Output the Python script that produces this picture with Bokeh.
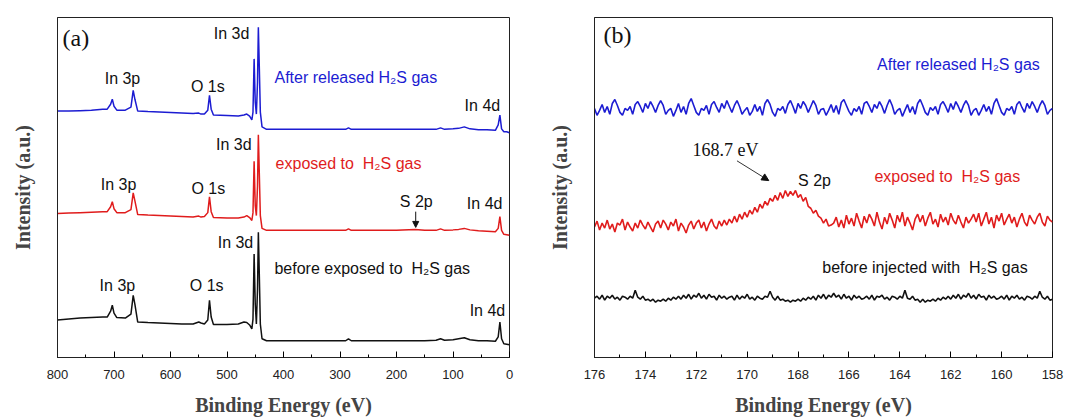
import numpy as np
from bokeh.plotting import figure
from bokeh.models import Range1d, Label, Arrow, NormalHead, FixedTicker
from bokeh.layouts import row
from bokeh.embed import file_html
from bokeh.resources import INLINE

# ---------------- data: (a) survey spectra ----------------
energy_a = [800, 780, 760, 740, 720, 712, 706, 703, 700, 695, 680, 670, 666, 663, 658,
            640, 620, 600, 580, 560, 550, 546, 540, 534, 531, 528, 524, 500, 480, 470,
            465, 460, 456, 454, 452, 450, 448, 446, 444.5, 443, 441, 438, 430, 400, 350,
            300, 290, 285, 280, 250, 200, 167, 150, 130, 122, 115, 100, 90, 80, 70,
            55, 40, 25, 20, 17, 14, 10, 5, 0]
after_a = [250, 250, 250.5, 251, 252, 252, 257, 262, 255, 251, 251, 254, 271, 262, 250,
           249.5, 249, 248.5, 248, 247.5, 248, 247, 247, 251, 266, 252, 246, 245.5, 245, 246,
           247, 245, 241, 249, 303, 259, 247, 279, 335, 299, 249, 234, 231.5, 231.5, 231.5,
           231.5, 231.5, 233, 231.5, 231.5, 231.5, 231.5, 231.5, 231.5, 233, 231.5, 232, 232.5, 234, 232,
           231, 231, 230.5, 236, 246, 232, 229, 229, 228]
exposed_a = [146, 146.5, 147, 147.5, 148, 148, 153, 158, 151, 147, 147, 150, 167, 159, 145,
             144.5, 144, 143.5, 143, 142.5, 143.5, 142.5, 143, 147, 163, 148, 142, 141.5, 141.5, 142.5,
             144, 142, 139, 147, 199, 154, 144, 174, 226, 191, 144, 131, 129, 129, 129,
             129, 129, 130.5, 129, 129, 129, 130, 129, 129, 130.5, 129, 129.5, 130, 131, 129.5,
             128.5, 128, 127.5, 131, 143, 129, 125, 124.5, 124]
before_a = [38, 39, 40, 40.5, 41, 41, 47, 53, 45, 40.5, 40, 44, 63, 54, 36,
            35.5, 35, 34.5, 34, 34, 36, 35, 34, 38, 58, 41, 33.5, 33.5, 34, 36,
            35.5, 33, 29, 39, 105, 54, 34, 69, 127, 89, 34, 19, 17, 17, 17,
            17, 17, 19, 17, 17, 17, 17, 17, 17.5, 19, 17.5, 18, 19, 20, 18,
            17, 17, 16.5, 21, 36, 19, 14, 13.5, 13]
ticks_a = [0, 100, 200, 300, 400, 500, 600, 700, 800]
minor_a = [50, 150, 250, 350, 450, 550, 650, 750]

# ---------------- data: (b) S 2p region (176 -> 158 eV, 0.1 eV steps) ----------------
after_b = [252, 245, 250, 256, 248, 254, 246, 257, 261, 255, 248, 245, 252, 250, 254, 246, 256, 259, 254, 248, 257, 252, 259, 254, 248, 255, 260, 255, 246, 250,
           252, 244, 250, 257, 248, 254, 246, 257, 262, 255, 248, 245, 252, 250, 255, 246, 256, 259, 253, 248, 257, 252, 260, 254, 248, 255, 260, 254, 246, 250,
           253, 245, 249, 256, 249, 254, 245, 257, 261, 256, 248, 244, 252, 250, 254, 247, 256, 260, 254, 247, 257, 252, 259, 255, 248, 254, 260, 255, 246, 251,
           252, 245, 250, 256, 248, 255, 246, 258, 261, 255, 249, 245, 252, 249, 254, 246, 257, 259, 254, 248, 256, 252, 259, 254, 247, 255, 261, 255, 246, 250,
           252, 244, 250, 256, 248, 254, 246, 257, 261, 255, 248, 245, 253, 250, 254, 246, 256, 259, 254, 248, 257, 251, 259, 254, 248, 255, 260, 255, 245, 250,
           252, 245, 250, 256, 249, 254, 246, 257, 262, 255, 248, 245, 252, 250, 254, 246, 256, 259, 253, 248, 257, 252, 259, 254, 248, 255, 260, 255, 246, 250, 252]
exposed_b = [132, 138, 129, 136, 131, 139, 130, 135, 127, 136, 134, 140, 129, 137, 132, 128, 136, 131, 139, 134,
             130, 137, 132, 127, 135, 138, 131, 139, 135, 129, 137, 133, 140, 128, 136, 132, 126, 134, 138, 130,
             136, 139, 131, 137, 128, 135, 140, 133, 130, 138,
             133, 139, 134, 140, 136, 143, 137, 145, 140, 147, 142, 149, 145, 152, 147, 155, 151, 158, 154, 161, 158,
             164, 159, 167, 161, 169, 163, 168, 164, 169, 162,
             165, 158, 162, 153, 151, 146, 149, 143, 141, 136, 140, 133, 134,
             136, 142, 132, 139, 131, 144, 135, 141, 133, 146, 138, 131, 143, 136, 145, 140, 133, 147, 137, 130,
             142, 135, 146, 139, 131, 144, 137, 147, 133, 142, 136, 129, 140, 145, 137, 144, 133, 141, 147, 135,
             140, 132, 145, 137, 142, 134, 146, 139, 135, 144, 137, 131, 142, 136, 140, 145, 137, 146, 133, 140,
             147, 135, 142, 131, 144, 138, 146, 134, 140, 145, 136, 142, 132, 140, 146, 137, 133, 144, 139, 135,
             142, 146, 137, 133, 143, 139, 137]
before_b = [60, 62, 59, 63, 58, 62, 60, 63, 59, 61, 58, 62, 61, 59, 62, 60, 68, 61, 59, 62, 58, 59, 57, 59, 56, 58, 57,
            59, 57, 60, 58, 61, 59, 62, 59, 63, 60, 64, 59, 63, 61, 65, 60, 63, 59, 64, 61, 62, 58, 63, 60, 62, 59,
            61, 62, 58, 63, 59, 62, 60, 64, 59, 61, 58, 62, 60, 59, 62, 61, 67, 61, 58, 62, 58, 59, 57, 58, 56, 58,
            57, 59, 57, 60, 58, 61, 59, 62, 58, 63, 60, 64, 59, 63, 61, 65, 61, 63, 59, 64, 60, 62, 58, 63, 60, 62, 59,
            60, 62, 59, 63, 58, 62, 61, 63, 59, 61, 58, 62, 61, 59, 62, 60, 68, 60, 59, 62, 58, 59, 56, 59, 56, 58,
            57, 59, 57, 60, 58, 61, 59, 62, 59, 63, 60, 64, 59, 63, 61, 65, 60, 63, 59, 64, 61, 62, 58, 63, 60, 62, 59,
            60, 62, 59, 63, 58, 62, 60, 63, 59, 61, 58, 62, 61, 59, 62, 60, 67, 61, 59, 62, 58, 59]
ticks_b = [158, 160, 162, 164, 166, 168, 170, 172, 174, 176]
minor_b = [159, 161, 163, 165, 167, 169, 171, 173, 175]

BLUE = "#1c1cd2"
RED = "#e01c1c"
BLACK = "#111111"
SANS = "Liberation Sans"
SERIF = "Liberation Serif"
NB = "\u00a0"


def style(p, ticks, minor):
    p.xgrid.visible = False
    p.ygrid.visible = False
    p.outline_line_color = "#222222"
    p.outline_line_width = 1
    p.background_fill_color = "white"
    p.border_fill_color = "white"
    ax = p.xaxis[0]
    ax.ticker = FixedTicker(ticks=ticks, minor_ticks=minor)
    ax.major_tick_in = 6
    ax.major_tick_out = 0
    ax.minor_tick_in = 3
    ax.minor_tick_out = 0
    ax.major_label_text_font = SANS
    ax.major_label_text_font_size = "13px"
    ax.major_label_text_color = "#222222"
    ax.major_label_standoff = 12
    ax.axis_label = "Binding Energy (eV)"
    ax.axis_label_text_font = SERIF
    ax.axis_label_text_font_style = "bold"
    ax.axis_label_text_font_size = "20px"
    ax.axis_label_standoff = 12
    ax.axis_line_color = "#222222"
    ay = p.yaxis[0]
    ay.ticker = FixedTicker(ticks=[])
    ay.axis_label = "Intensity (a.u.)"
    ay.axis_label_text_font = SERIF
    ay.axis_label_text_font_style = "bold"
    ay.axis_label_text_font_size = "20px"
    ay.axis_label_standoff = 24
    ay.axis_line_color = "#222222"


def lab(p, x, y, text, color=BLACK, size="16px", font=SANS, align="center"):
    p.add_layout(Label(x=x, y=y, text=text, text_color=color, text_font=font,
                       text_font_size=size, text_align=align, text_baseline="middle"))


# ---------------- panel (a) ----------------
p1 = figure(width=535, height=418, x_range=Range1d(800, 0), y_range=Range1d(0, 345),
            output_backend="svg", toolbar_location=None,
            min_border_left=57, min_border_right=26, min_border_top=14, min_border_bottom=59)
style(p1, ticks_a, minor_a)
p1.line(energy_a, after_a, line_color=BLUE, line_width=1.5)
p1.line(energy_a, exposed_a, line_color=RED, line_width=1.5)
p1.line(energy_a, before_a, line_color=BLACK, line_width=1.5)

lab(p1, 791, 324, "(a)", size="24px", font=SERIF, align="left")
lab(p1, 492, 329, "In 3d")
lab(p1, 685, 283, "In 3p")
lab(p1, 534, 275, "O 1s")
lab(p1, 416, 284, "After released H\u2082S gas", color=BLUE, align="left")
lab(p1, 48, 256, "In 4d")

lab(p1, 488, 216, "In 3d")
lab(p1, 414, 197, "exposed to" + NB + " H\u2082S gas", color=RED, align="left")
lab(p1, 692, 176, "In 3p")
lab(p1, 533, 171, "O 1s")
lab(p1, 165, 158, "S 2p")
lab(p1, 44, 156, "In 4d")
p1.add_layout(Arrow(x_start=166, y_start=148, x_end=166, y_end=132, line_color=BLACK, line_width=1,
                    end=NormalHead(size=6, fill_color=BLACK, line_color=BLACK)))

lab(p1, 485, 117, "In 3d")
lab(p1, 416, 90, "before exposed to" + NB + " H\u2082S gas", align="left")
lab(p1, 694, 73, "In 3p")
lab(p1, 536, 73, "O 1s")
lab(p1, 39, 48, "In 4d")

# ---------------- panel (b) ----------------
p2 = figure(width=535, height=418, x_range=Range1d(176, 158), y_range=Range1d(0, 344),
            output_backend="svg", toolbar_location=None,
            min_border_left=59, min_border_right=18, min_border_top=17, min_border_bottom=57)
style(p2, ticks_b, minor_b)
p2.line(np.linspace(176, 158, len(after_b)), after_b, line_color=BLUE, line_width=1.6)
p2.line(np.linspace(176, 158, len(exposed_b)), exposed_b, line_color=RED, line_width=1.6)
p2.line(np.linspace(176, 158, len(before_b)), before_b, line_color=BLACK, line_width=1.6)

lab(p2, 175.65, 326, "(b)", size="24px", font=SERIF, align="left")
lab(p2, 158.5, 296, "After released H\u2082S gas", color=BLUE, align="right")
lab(p2, 172.15, 210, "168.7 eV", size="18px", font=SERIF, align="left")
p2.add_layout(Arrow(x_start=170.4, y_start=199, x_end=169.15, y_end=179, line_color="#333333", line_width=1,
                    end=NormalHead(size=7, fill_color=BLACK, line_color=BLACK)))
lab(p2, 168.0, 179, "S 2p", align="left")
lab(p2, 165.0, 183, "exposed to" + NB + " H\u2082S gas", color=RED, align="left")
lab(p2, 167.05, 91, "before injected with" + NB + " H\u2082S gas", align="left")

layout = row(p1, p2)
open("out.html", "w").write(file_html(layout, INLINE, title="XPS spectra"))
